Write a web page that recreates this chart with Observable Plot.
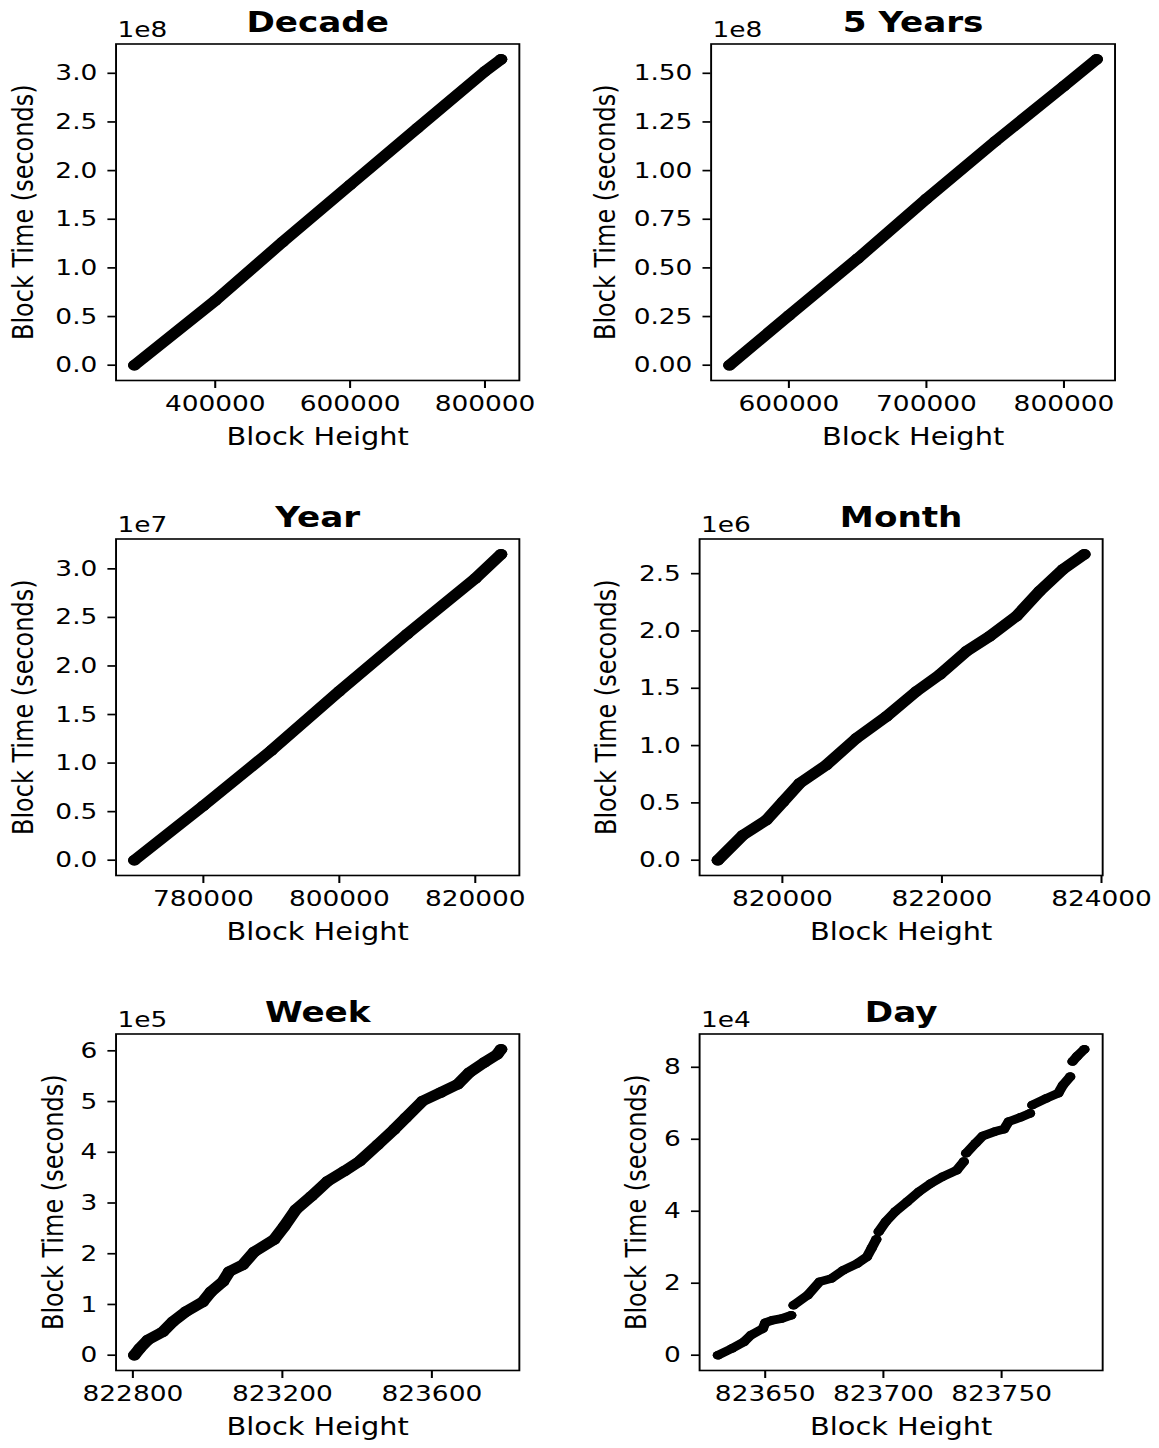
<!DOCTYPE html>
<html>
<head>
<meta charset="utf-8">
<script src="https://cdn.jsdelivr.net/npm/d3@7"></script>
<script src="https://cdn.jsdelivr.net/npm/@observablehq/plot@0.6"></script>
<style>
  html, body { margin: 0; padding: 0; background: #fff; overflow: hidden; }
  #stage { position: relative; width: 965.8px; height: 1448px; transform: scaleX(1.2); transform-origin: 0 0; }
  .panel { position: absolute; }
  .panel svg { display: block; overflow: visible; }
  [aria-label="x-axis tick"], [aria-label="y-axis tick"], .tick line { stroke-width: 1.7px; }
</style>
</head>
<body>
<div id="stage"></div>
<script>
// ---------------- data ----------------
const decadeHeight = [280100, 400000, 500000, 600000, 700000, 800000, 823785];
const decadeTime   = [0, 0.664e8, 1.267e8, 1.853e8, 2.438e8, 3.02e8, 3.144e8];

const fiveYearHeight = [556800, 600000, 650000, 700000, 750000, 800000, 823785];
const fiveYearTime   = [0, 0.255e8, 0.548e8, 0.855e8, 1.15e8, 1.435e8, 1.572e8];

const yearHeight = [769850, 780000, 790000, 800000, 810000, 820000, 823785];
const yearTime   = [0, 5.6e6, 11.3e6, 17.4e6, 23.3e6, 29.0e6, 31.5e6];

const monthHeight = [819192, 819506, 819799, 820008, 820217, 820552, 820928, 821304,
                     821680, 821972, 822307, 822599, 822934, 823226, 823518, 823785];
const monthTime   = [0, 219000, 350000, 510000, 671000, 831000, 1064000, 1254000,
                     1473000, 1619000, 1823000, 1954000, 2129000, 2348000, 2538000, 2669000];

const weekHeight = [822804, 822818, 822840, 822880, 822907, 822942, 822987, 823009, 823041,
                    823058, 823094, 823125, 823178, 823205, 823236, 823277, 823321, 823366,
                    823406, 823455, 823499, 823530, 823575, 823624, 823669, 823700, 823740,
                    823775, 823785];
const weekTime   = [0, 13000, 30000, 46000, 66000, 86000, 105000, 125000, 145000,
                    165000, 178000, 204000, 228000, 254000, 287000, 313000, 343000, 363000,
                    382000, 415000, 445000, 468000, 501000, 518000, 534000, 557000, 577000,
                    593000, 603000];

const dayHeight = [823630, 823636, 823641, 823644, 823649, 823650, 823653, 823657, 823661,
                   823662, 823668, 823673, 823678, 823683, 823689, 823693, 823695, 823697,
                   823698, 823701, 823705, 823710, 823715, 823720, 823725, 823731, 823734,
                   823735, 823739, 823742, 823747, 823751, 823753, 823758, 823762, 823763,
                   823769, 823774, 823776, 823779, 823780, 823782, 823785];
const dayTime   = [0, 1900, 3700, 5600, 7400, 9000, 9700, 10200, 11100,
                   13900, 16700, 20400, 21300, 23600, 25500, 27300, 29700, 32200,
                   34300, 37100, 39900, 42600, 45400, 47700, 49600, 51400, 53800,
                   56100, 58900, 60900, 62100, 62800, 64900, 66100, 67200, 69500,
                   71400, 72800, 75100, 77400, 81600, 83100, 85000];

// tick labels (x ticks as block heights; y ticks as displayed values with exponent)
const decadeXTicks = [400000, 600000, 800000];
const fiveYearXTicks = [600000, 700000, 800000];
const yearXTicks = [780000, 800000, 820000];
const monthXTicks = [820000, 822000, 824000];
const weekXTicks = [822800, 823200, 823600];
const dayXTicks = [823650, 823700, 823750];

const decadeYTicks = [0, 0.5, 1.0, 1.5, 2.0, 2.5, 3.0];
const fiveYearYTicks = [0, 0.25, 0.5, 0.75, 1.0, 1.25, 1.5];
const yearYTicks = [0, 0.5, 1.0, 1.5, 2.0, 2.5, 3.0];
const monthYTicks = [0, 0.5, 1.0, 1.5, 2.0, 2.5];
const weekYTicks = [0, 1, 2, 3, 4, 5, 6];
const dayYTicks = [0, 2, 4, 6, 8];

const titles = ["Decade", "5 Years", "Year", "Month", "Week", "Day"];
const exponents = [8, 8, 7, 6, 5, 4];
const decimals = [1, 2, 1, 1, 0, 0];
const xLabel = "Block Height";
const yLabel = "Block Time (seconds)";

// ---------------- layout (logical px; stage is stretched by 1.2 horizontally) ----------------
const HALF = 482.9;
const layout = [
  {left: 0,    top: 0,   ml: 96.2,  mr: 50.6, ylx: -77.0, w: 10.5, breakRate: null},
  {left: HALF, top: 0,   ml: 109.1, mr: 37.2, ylx: -87.9, w: 10.5, breakRate: null},
  {left: 0,    top: 495, ml: 96.2,  mr: 50.6, ylx: -77.0, w: 10.5, breakRate: null},
  {left: HALF, top: 495, ml: 99.5,  mr: 47.5, ylx: -77.0, w: 10.5, breakRate: null},
  {left: 0,    top: 990, ml: 96.2,  mr: 50.6, ylx: -52.1, w: 10.5, breakRate: null},
  {left: HALF, top: 990, ml: 99.5,  mr: 47.5, ylx: -52.1, w: 8.6,  breakRate: 2000}
];

const series = [
  [decadeHeight, decadeTime, decadeXTicks, decadeYTicks],
  [fiveYearHeight, fiveYearTime, fiveYearXTicks, fiveYearYTicks],
  [yearHeight, yearTime, yearXTicks, yearYTicks],
  [monthHeight, monthTime, monthXTicks, monthYTicks],
  [weekHeight, weekTime, weekXTicks, weekYTicks],
  [dayHeight, dayTime, dayXTicks, dayYTicks]
];

const padded = (arr) => { const [lo, hi] = d3.extent(arr); const m = (hi - lo) * 0.05; return [lo - m, hi + m]; };

const stage = document.getElementById("stage");
const FONT = "'DejaVu Sans', sans-serif";

series.forEach(([hs, ts, xt, yt], i) => {
  const lay = layout[i];
  const mult = Math.pow(10, exponents[i]);
  let seg = 0;
  const data = hs.map((h, k) => {
    if (k > 0 && lay.breakRate && (ts[k] - ts[k - 1]) / (h - hs[k - 1]) > lay.breakRate) seg++;
    return {h, t: ts[k], seg};
  });
  const svg = Plot.plot({
    width: HALF,
    height: 458,
    marginLeft: lay.ml,
    marginRight: lay.mr,
    marginTop: 43.5,
    marginBottom: 78,
    style: {fontFamily: FONT, fontSize: "22px", color: "#000", background: "transparent", overflow: "visible"},
    x: {domain: padded(hs), ticks: xt, tickFormat: d => String(d), tickSize: 8, tickPadding: 7, label: null},
    y: {domain: padded(ts), ticks: yt.map(v => v * mult), tickFormat: d => (d / mult).toFixed(decimals[i]), tickSize: 6.7, tickPadding: 8.9, label: null},
    marks: [
      Plot.line(data, {x: "h", y: "t", z: "seg", stroke: "#000", strokeWidth: lay.w, strokeLinecap: "round", strokeLinejoin: "round"}),
      Plot.dot(data, {x: "h", y: "t", r: lay.w / 2, fill: "#000"}),
      Plot.frame({stroke: "#000", strokeWidth: 1.6}),
      Plot.text([titles[i]], {text: d => d, frameAnchor: "top", textAnchor: "middle", lineAnchor: "bottom", dy: -11.8, fontWeight: "bold", fontSize: 28.5, fill: "#000"}),
      Plot.text(["1e" + exponents[i]], {text: d => d, frameAnchor: "top-left", textAnchor: "start", lineAnchor: "bottom", dx: 1.2, dy: -6.5, fontSize: 22, fill: "#000"}),
      Plot.text([xLabel], {text: d => d, frameAnchor: "bottom", textAnchor: "middle", lineAnchor: "bottom", dy: 65, fontSize: 24, fill: "#000"}),
      Plot.text([yLabel], {text: d => d, frameAnchor: "left", textAnchor: "middle", lineAnchor: "middle", rotate: -90, dx: lay.ylx, fontSize: 24, fill: "#000"})
    ]
  });
  const div = document.createElement("div");
  div.className = "panel";
  div.style.left = lay.left + "px";
  div.style.top = lay.top + "px";
  div.appendChild(svg);
  stage.appendChild(div);
});
</script>
</body>
</html>
